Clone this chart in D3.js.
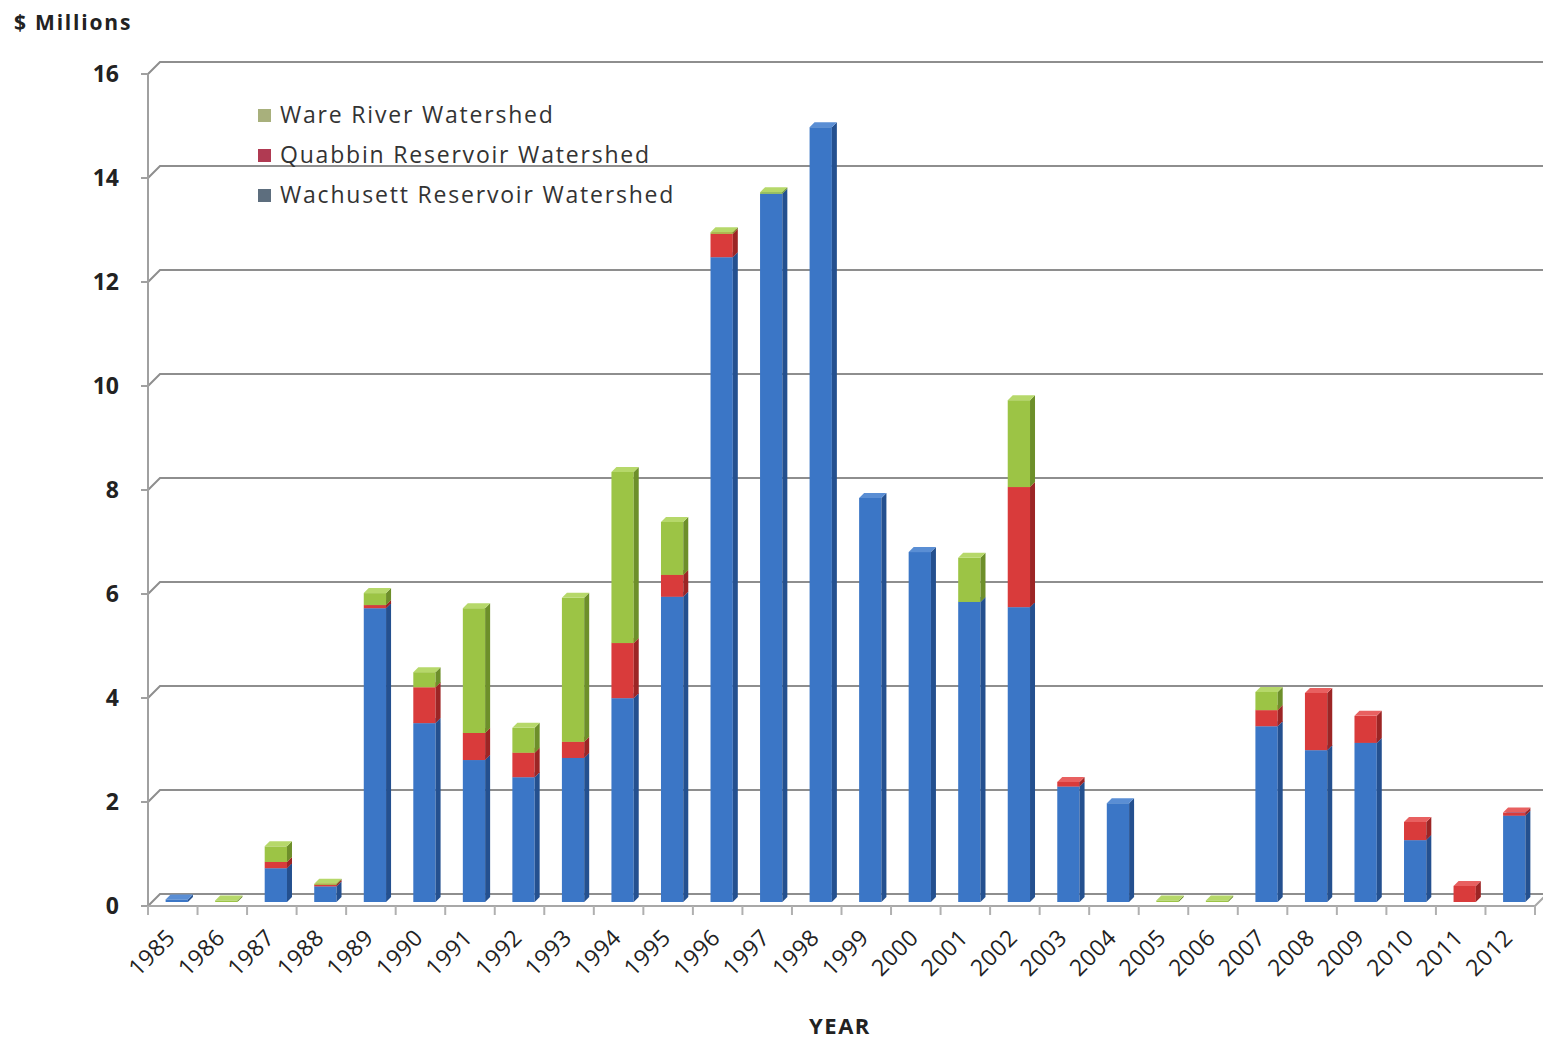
<!DOCTYPE html>
<html>
<head>
  <meta charset="utf-8">
  <title>Watershed land acquisition</title>
  <style>
    body { margin: 0; background: #fff; }
    svg { display: block; font-family: "Open Sans", Lato, sans-serif; }
  </style>
</head>
<body>
  <svg id="chart"></svg>
  <script src="https://cdnjs.cloudflare.com/ajax/libs/d3/7.8.5/d3.min.js"></script>
  <script>
    // chart values ($ millions)
    const years = ["1985", "1986", "1987", "1988", "1989", "1990", "1991", "1992", "1993", "1994",
      "1995", "1996", "1997", "1998", "1999", "2000", "2001", "2002", "2003", "2004",
      "2005", "2006", "2007", "2008", "2009", "2010", "2011", "2012"];
    const wachusett = [0.05, 0, 0.65, 0.3, 5.65, 3.44, 2.73, 2.4, 2.77, 3.92,
      5.87, 12.4, 13.62, 14.9, 7.77, 6.73, 5.77, 5.67, 2.22, 1.9,
      0, 0, 3.38, 2.92, 3.06, 1.19, 0, 1.66];
    const quabbin = [0, 0, 0.12, 0.03, 0.06, 0.69, 0.52, 0.47, 0.31, 1.06,
      0.42, 0.45, 0, 0, 0, 0, 0, 2.31, 0.09, 0,
      0, 0, 0.31, 1.1, 0.52, 0.35, 0.31, 0.06];
    const ware = [0, 0.03, 0.3, 0.02, 0.23, 0.29, 2.4, 0.48, 2.77, 3.29,
      1.02, 0.03, 0.03, 0, 0, 0, 0.85, 1.67, 0, 0,
      0.03, 0.03, 0.35, 0, 0, 0, 0, 0];
    const yTicks = [0, 2, 4, 6, 8, 10, 12, 14, 16];

    const series = [
      { key: "wachusett", name: "Wachusett Reservoir Watershed", values: wachusett },
      { key: "quabbin", name: "Quabbin Reservoir Watershed", values: quabbin },
      { key: "ware", name: "Ware River Watershed", values: ware }
    ];

    const width = 1543, height = 1043;
    const colors = {
      wachusett: { front: "#3b76c6", side: "#24508f", top: "#5a8ed4", swatch: "#5d6e7e" },
      quabbin: { front: "#d93b3b", side: "#9c2525", top: "#e86060", swatch: "#b03a52" },
      ware: { front: "#9cc445", side: "#6d8f2a", top: "#b6d86a", swatch: "#a8b07c" }
    };

    const wall = 12;   // 3d depth of the back wall
    const fOff = 4;    // front face of the bars sits this far back
    const depth = 5;   // bar depth

    const svg = d3.select("#chart")
      .attr("width", width)
      .attr("height", height)
      .attr("viewBox", [0, 0, width, height]);

    const x = d3.scaleBand().domain(years).range([148, 1535]);
    const y = d3.scaleLinear().domain([0, 16]).range([906, 74]);

    /** gridlines on the back wall */
    const grid = svg.append("g")
      .attr("fill", "none")
      .attr("stroke", "#8e8e8e")
      .attr("stroke-width", 2);

    grid.selectAll("path.grid")
      .data(yTicks)
      .join("path")
      .attr("class", "grid")
      .attr("d", d => `M148,${y(d)}L${148 + wall},${y(d) - wall}H${width}`);

    // floor front edge
    grid.append("path")
      .attr("d", `M148,${y(0)}H${x.range()[1]}L${x.range()[1] + wall},${y(0) - wall}`)
      .attr("stroke", "#a8a8a8");

    // left axis line and ticks
    grid.append("path").attr("d", `M148,${y(16)}V${y(0) + 8}`).attr("stroke", "#a0a0a0");
    grid.selectAll("path.ytick")
      .data(yTicks)
      .join("path")
      .attr("class", "ytick")
      .attr("stroke", "#a0a0a0")
      .attr("d", d => `M141,${y(d)}H148`);

    // x ticks at band boundaries
    grid.selectAll("path.xtick")
      .data(years.concat(["end"]))
      .join("path")
      .attr("class", "xtick")
      .attr("stroke", "#b0b0b0")
      .attr("d", (d, i) => {
        const xx = i < years.length ? x(d) : x.range()[1];
        return `M${xx},${y(0)}V${y(0) + 9}`;
      });

    /** stacked 3d columns */
    const table = years.map((yr, i) => ({ year: yr, wachusett: wachusett[i], quabbin: quabbin[i], ware: ware[i] }));
    const stack = d3.stack().keys(series.map(s => s.key))(table);

    const bw = x.bandwidth() * 0.45;
    const bx = yr => x(yr) + (x.bandwidth() - bw) / 2 + fOff;

    const bars = svg.append("g");
    years.forEach((yr, i) => {
      const g = bars.append("g");
      stack.forEach(layer => {
        const d = layer[i];
        if (d[1] - d[0] <= 0) return;
        const c = colors[layer.key];
        const x0 = bx(yr), x1 = x0 + bw;
        const yb = y(d[0]) - fOff, yt = y(d[1]) - fOff;
        g.append("rect")
          .attr("x", x0).attr("y", yt)
          .attr("width", bw).attr("height", yb - yt)
          .attr("fill", c.front);
        g.append("path")
          .attr("d", `M${x1},${yb}L${x1 + depth},${yb - depth}V${yt - depth}L${x1},${yt}Z`)
          .attr("fill", c.side);
        g.append("path")
          .attr("d", `M${x0},${yt}L${x0 + depth},${yt - depth}H${x1 + depth}L${x1},${yt}Z`)
          .attr("fill", c.top);
      });
    });

    /** y tick labels */
    svg.append("g")
      .selectAll("text")
      .data(yTicks)
      .join("text")
      .attr("x", 119)
      .attr("y", d => y(d))
      .attr("dy", "0.36em")
      .attr("text-anchor", "end")
      .attr("font-size", 23)
      .attr("font-weight", "bold")
      .attr("fill", "#222")
      .text(d => d);

    /** x tick labels, rotated */
    svg.append("g")
      .selectAll("text")
      .data(years)
      .join("text")
      .attr("transform", d => `translate(${x(d) + x.bandwidth() / 2 + 4},${y(0) + 33}) rotate(-45)`)
      .attr("text-anchor", "end")
      .attr("font-size", 23)
      .attr("letter-spacing", 0.5)
      .attr("fill", "#222")
      .text(d => d);

    /** axis titles */
    svg.append("text")
      .attr("x", 14).attr("y", 30)
      .attr("font-size", 21)
      .attr("font-weight", "bold")
      .attr("letter-spacing", 1.8)
      .attr("fill", "#222")
      .text("$ Millions");

    svg.append("text")
      .attr("x", 840).attr("y", 1034)
      .attr("text-anchor", "middle")
      .attr("font-size", 22)
      .attr("font-weight", "bold")
      .attr("letter-spacing", 1.5)
      .attr("fill", "#222")
      .text("YEAR");

    /** legend */
    const legend = svg.append("g").attr("transform", "translate(258,115)");
    const items = legend.selectAll("g")
      .data(series.slice().reverse())
      .join("g")
      .attr("transform", (d, i) => `translate(0,${i * 40})`);
    items.append("rect")
      .attr("x", 0).attr("y", -6)
      .attr("width", 13).attr("height", 13)
      .attr("fill", d => colors[d.key].swatch);
    items.append("text")
      .attr("x", 22).attr("dy", "0.35em")
      .attr("font-size", 23)
      .attr("letter-spacing", 1.8)
      .attr("fill", "#333")
      .text(d => d.name);
  </script>
</body>
</html>
